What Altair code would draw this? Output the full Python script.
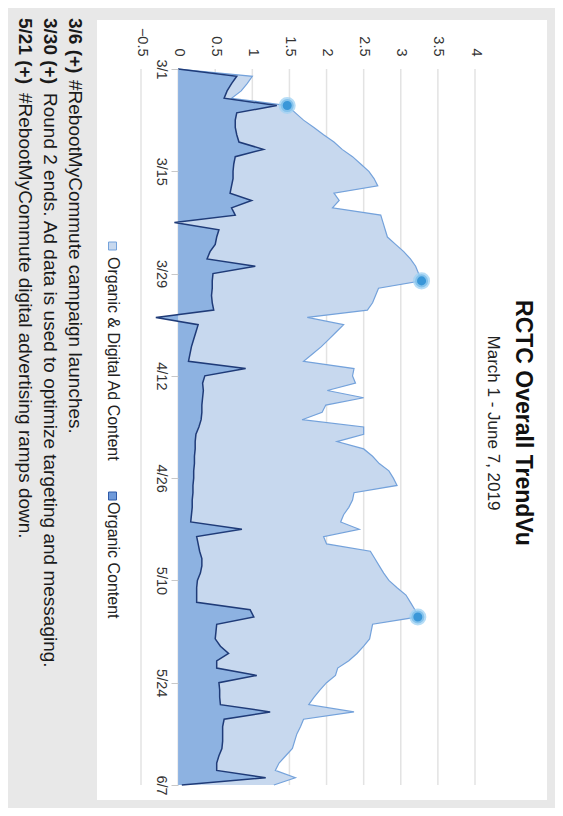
import json
import altair as alt
import pandas as pd

# ---------------- data ----------------
dates = pd.date_range("2019-03-01", "2019-06-07", freq="D")

organic_digital = [0.00, 1.00, 0.93, 0.85, 0.72, 1.47, 1.58, 1.69, 1.83, 1.96,
                   2.10, 2.21, 2.35, 2.46, 2.57, 2.64, 2.69, 2.10, 2.17, 2.08,
                   2.73, 2.76, 2.79, 2.82, 2.93, 3.04, 3.13, 3.20, 3.24, 3.28,
                   2.70, 2.66, 2.62, 2.55, 1.74, 2.23, 2.13, 2.03, 1.93, 1.81,
                   1.69, 2.37, 2.35, 2.39, 2.01, 2.50, 1.99, 1.94, 1.67, 2.50,
                   2.50, 2.14, 2.50, 2.62, 2.71, 2.84, 2.90, 2.95, 2.37, 2.35,
                   2.30, 2.23, 2.19, 2.44, 1.96, 2.00, 2.59, 2.65, 2.71, 2.77,
                   2.84, 2.95, 3.07, 3.13, 3.19, 3.23, 2.62, 2.60, 2.58, 2.50,
                   2.41, 2.30, 2.15, 2.12, 2.00, 1.91, 1.83, 1.76, 2.37, 1.69,
                   1.65, 1.60, 1.57, 1.54, 1.45, 1.36, 1.31, 1.58, 1.29]

organic = [0.00, 0.79, 0.72, 0.66, 0.62, 1.33, 0.79, 0.77, 0.77, 0.79,
           0.82, 1.15, 0.77, 0.75, 0.74, 0.74, 0.72, 0.70, 0.99, 0.72,
           0.77, -0.05, 0.55, 0.52, 0.50, 0.43, 0.39, 1.04, 0.47, 0.46,
           0.46, 0.45, 0.46, 0.48, -0.30, 0.27, 0.24, 0.21, 0.18, 0.16,
           0.14, 0.91, 0.36, 0.33, 0.34, 0.33, 0.32, 0.32, 0.31, 0.28,
           0.24, 0.23, 0.23, 0.22, 0.22, 0.21, 0.21, 0.20, 0.20, 0.19,
           0.19, 0.18, 0.17, 0.86, 0.25, 0.27, 0.29, 0.32, 0.32, 0.30,
           0.26, 0.25, 0.25, 0.25, 0.97, 1.02, 0.52, 0.51, 0.50, 0.57,
           0.68, 0.52, 0.52, 1.06, 0.55, 0.56, 0.56, 0.57, 1.24, 0.62,
           0.60, 0.60, 0.60, 0.59, 0.55, 0.52, 0.52, 1.18, 0.05]

peak_days = [5, 29, 75]
value_ticks = [-0.5, 0, 0.5, 1, 1.5, 2, 2.5, 3, 3.5, 4]
date_tick_days = [0, 14, 28, 42, 56, 70, 84, 98]
date_tick_labels = ["3/1", "3/15", "3/29", "4/12", "4/26", "5/10", "5/24", "6/7"]

title_text = "RCTC Overall TrendVu"
subtitle_text = "March 1 - June 7, 2019"
legend_labels = ["Organic & Digital Ad Content", "Organic Content"]
notes_bold = ["3/6 (+)", "3/30 (+)", "5/21 (+)"]
notes_text = ["#RebootMyCommute campaign launches.",
              "Round 2 ends. Ad data is used to optimize targeting and messaging.",
              "#RebootMyCommute digital advertising ramps down."]

df = pd.DataFrame({"day": list(range(len(dates))),
                   "combined": organic_digital,
                   "organic": organic})
peaks = pd.DataFrame({"day": peak_days,
                      "combined": [organic_digital[d] for d in peak_days]})
grid_df = pd.DataFrame({"v": value_ticks})

# ---------------- styles ----------------
LIGHT_FILL = "#c7d8ee"
LIGHT_LINE = "#74a2db"
DARK_FILL = "#8db2e1"
DARK_LINE = "#1f3b78"
POINT = "#3a97d8"
FONT = "Liberation Sans"

W, H = 334, 716

x_scale = alt.Scale(domain=[-0.5, 4], nice=False, zero=False)
y_scale = alt.Scale(domain=[0, 98], nice=False, zero=False, reverse=True)

x_axis = alt.Axis(orient="top", values=value_ticks, format=".1~f",
                  labelAngle=90, labelAlign="right", labelBaseline="middle",
                  grid=False, domain=False, ticks=False, tickSize=0,
                  labelPadding=13, labelFontSize=14.5, labelColor="#333333",
                  labelFlush=False, labelOverlap=False, title=None, zindex=1)

label_expr = json.dumps(date_tick_labels) + "[round(datum.value / 14)]"
y_axis = alt.Axis(values=date_tick_days, labelExpr=label_expr,
                  labelAngle=90, labelAlign="center", labelBaseline="top",
                  offset=-37, grid=False, domain=False,
                  ticks=True, tickSize=7, tickColor="#c8c8c8",
                  labelPadding=4, labelFontSize=14.5, labelColor="#333333",
                  labelFlush=False, labelOverlap=False, title=None, zindex=1)


def X(field):
    return alt.X(field, scale=x_scale, axis=x_axis, stack=False)


def Y(field):
    return alt.Y(field, scale=y_scale, axis=y_axis)


one = alt.Data(values=[{}])

# white panel
panel = alt.Chart(one).mark_rect(color="white").encode(
    x=alt.value(-44), x2=alt.value(406), y=alt.value(-49), y2=alt.value(731))

grid = alt.Chart(grid_df).mark_rule(color="#e3e3e3", strokeWidth=1.5).encode(
    x=alt.X("v:Q", scale=x_scale, axis=x_axis))

base = alt.Chart(df)
light_area = base.mark_area(orient="horizontal", color=LIGHT_FILL, opacity=1).encode(
    x=X("combined:Q"), y=Y("day:Q"))
light_line = base.mark_line(color=LIGHT_LINE, strokeWidth=1.2).encode(
    x=X("combined:Q"), y=Y("day:Q"), order="day:Q")
dark_area = base.mark_area(orient="horizontal", color=DARK_FILL, opacity=1).encode(
    x=X("organic:Q"), y=Y("day:Q"))
dark_line = base.mark_line(color=DARK_LINE, strokeWidth=1.5).encode(
    x=X("organic:Q"), y=Y("day:Q"), order="day:Q")

points = alt.Chart(peaks).mark_circle(size=170, color=POINT, opacity=1,
                                      stroke="#9fd1f3", strokeWidth=4,
                                      strokeOpacity=0.75).encode(
    x=X("combined:Q"), y=Y("day:Q"))


def label(txt, x, y, size, weight="normal", align="left", color="#1a1a1a"):
    return alt.Chart(one).mark_text(text=txt, angle=90, align=align,
                                    baseline="middle", fontSize=size,
                                    fontWeight=weight, color=color,
                                    font=FONT).encode(
        x=alt.value(x), y=alt.value(y))


title = label(title_text, 382, 354, 23, "bold", "center", "#111111")
subtitle = label(subtitle_text, 352, 354, 17, "normal", "center", "#222222")

leg_sq1 = alt.Chart(one).mark_square(size=64, fill=LIGHT_FILL, stroke=LIGHT_LINE,
                                     strokeWidth=1, opacity=1).encode(
    x=alt.value(-28.5), y=alt.value(177))
leg_sq2 = alt.Chart(one).mark_square(size=64, fill="#6f9ada", stroke="#2f5aa8",
                                     strokeWidth=1, opacity=1).encode(
    x=alt.value(-28.5), y=alt.value(427))
leg_t1 = label(legend_labels[0], -28, 188, 16, color="#222222")
leg_t2 = label(legend_labels[1], -28, 433, 16, color="#222222")

note_x = [-66, -91, -116]
note_bold_y = -51
note_text_y = [11, 24, 24]
notes = []
for i in range(3):
    notes.append(label(notes_bold[i], note_x[i], note_bold_y, 19, "bold"))
    notes.append(label(notes_text[i], note_x[i], note_text_y[i], 19))

chart = alt.layer(
    panel, grid, light_area, light_line, dark_area, dark_line, points,
    title, subtitle, leg_sq1, leg_sq2, leg_t1, leg_t2, *notes
).properties(
    width=W, height=H,
    padding={"left": 133, "top": 61, "right": 80, "bottom": 23},
    autosize=alt.AutoSizeParams(type="none"),
    background="#e8e8e8",
).configure_view(strokeWidth=0).configure(font=FONT)

chart.save("out.html", embed_options={"renderer": "svg", "actions": False})
